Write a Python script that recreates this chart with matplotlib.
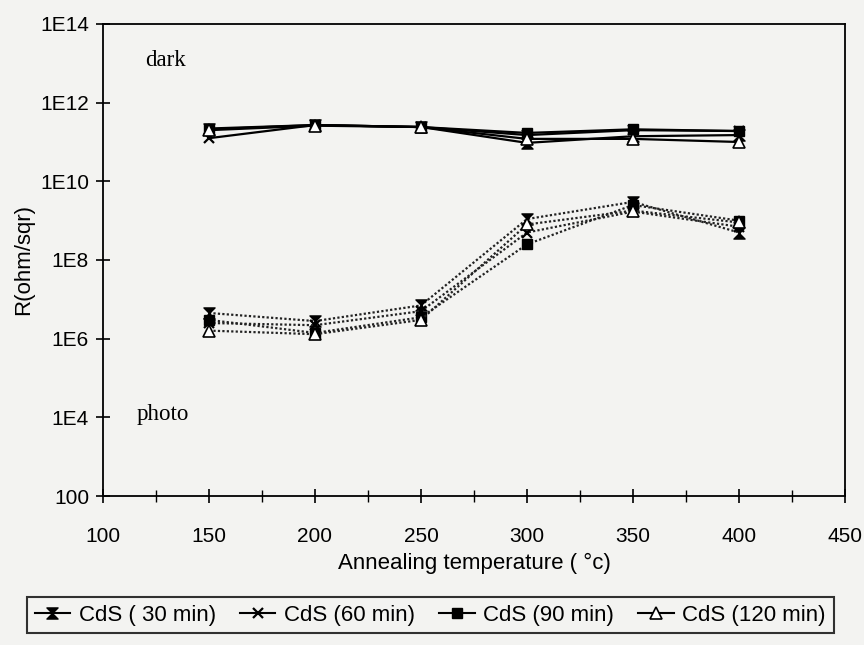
import matplotlib
matplotlib.use("Agg")
import matplotlib.pyplot as plt
from matplotlib.path import Path
from matplotlib.lines import Line2D

# Annealing temperatures (°C)
temperature = [150, 200, 250, 300, 350, 400]

# Sheet resistance in the dark (ohm/sqr)
dark_30 = [2.1e11, 2.7e11, 2.4e11, 0.95e11, 1.4e11, 1.5e11]
dark_60 = [1.25e11, 2.7e11, 2.4e11, 1.5e11, 2.0e11, 1.9e11]
dark_90 = [2.2e11, 2.7e11, 2.4e11, 1.7e11, 2.1e11, 1.9e11]
dark_120 = [2.0e11, 2.6e11, 2.4e11, 1.2e11, 1.2e11, 1.0e11]

# Sheet resistance under illumination (ohm/sqr)
photo_30 = [4.5e6, 2.8e6, 7.0e6, 1.1e9, 3.0e9, 5.0e8]
photo_60 = [2.5e6, 2.2e6, 5.0e6, 5.0e8, 1.7e9, 7.0e8]
photo_90 = [3.0e6, 1.4e6, 3.5e6, 2.5e8, 2.5e9, 1.0e9]
photo_120 = [1.6e6, 1.3e6, 3.0e6, 8.0e8, 1.8e9, 9.0e8]

series_labels = ["CdS ( 30 min)", "CdS (60 min)", "CdS (90 min)", "CdS (120 min)"]

x_ticks = [100, 150, 200, 250, 300, 350, 400, 450]
y_ticks = [1e2, 1e4, 1e6, 1e8, 1e10, 1e12, 1e14]
y_tick_labels = ["100", "1E4", "1E6", "1E8", "1E10", "1E12", "1E14"]

plt.rcParams["font.family"] = ["Liberation Sans", "DejaVu Sans"]

# hourglass-shaped marker
hourglass = Path([(-1, 1), (1, 1), (-1, -1), (1, -1), (-1, 1)],
                 [Path.MOVETO, Path.LINETO, Path.LINETO, Path.LINETO, Path.CLOSEPOLY])

styles = [
    dict(marker=hourglass, markersize=8, markerfacecolor="black", markeredgecolor="black"),
    dict(marker="x", markersize=7, markeredgewidth=1.6, markeredgecolor="black"),
    dict(marker="s", markersize=7, markerfacecolor="black", markeredgecolor="black"),
    dict(marker="^", markersize=8, markerfacecolor="white", markeredgecolor="black",
         markeredgewidth=1.2),
]

bg = "#f3f3f1"
fig = plt.figure(figsize=(8.64, 6.45), dpi=100, facecolor=bg)
ax = fig.add_axes([0.1192, 0.231, 0.978 - 0.1192, 0.9628 - 0.231])
ax.set_facecolor(bg)

dark = [dark_30, dark_60, dark_90, dark_120]
photo = [photo_30, photo_60, photo_90, photo_120]

for vals, st in zip(dark, styles):
    ax.plot(temperature, vals, color="black", linewidth=1.6, linestyle="-", **st)
for vals, st in zip(photo, styles):
    ax.plot(temperature, vals, color="#222222", linewidth=1.6, linestyle=(0, (1, 1)), **st)

ax.set_yscale("log")
ax.set_xlim(100, 450)
ax.set_ylim(1e2, 1e14)

ax.set_xticks(x_ticks)
ax.set_xticks([125, 175, 225, 275, 325, 375, 425], minor=True)
ax.set_yticks(y_ticks)
ax.set_yticklabels(y_tick_labels)
ax.yaxis.set_minor_locator(matplotlib.ticker.NullLocator())

ax.tick_params(axis="x", which="major", direction="inout", length=10, width=1.2,
               pad=17, labelsize=15)
ax.tick_params(axis="x", which="minor", direction="inout", length=8, width=1.0)
ax.tick_params(axis="y", which="major", direction="inout", length=10, width=1.2,
               pad=5, labelsize=15)

for sp in ax.spines.values():
    sp.set_linewidth(1.3)

ax.set_xlabel("Annealing temperature ( °c)", fontsize=16, labelpad=5)
ax.set_ylabel("R(ohm/sqr)", fontsize=16, labelpad=4)

ax.text(120, 10 ** 13.08, "dark", family=["Liberation Serif", "DejaVu Serif"],
        fontsize=16.5, va="center", ha="left")
ax.text(116, 10 ** 4.06, "photo", family=["Liberation Serif", "DejaVu Serif"],
        fontsize=16.5, va="center", ha="left")

handles = [Line2D([], [], color="black", linewidth=1.5, **st) for st in styles]
leg = fig.legend(handles, series_labels, loc="lower left", ncol=4, mode="expand",
                 bbox_to_anchor=(0.031, 0.018, 0.934, 0.058), fontsize=16,
                 frameon=True, fancybox=False, handlelength=1.6, handletextpad=0.4,
                 borderpad=0.35, columnspacing=0.6, borderaxespad=0)
leg.get_frame().set_edgecolor("black")
leg.get_frame().set_linewidth(1.5)
leg.get_frame().set_facecolor(bg)

fig.savefig("out.png", dpi=100, facecolor=bg)
